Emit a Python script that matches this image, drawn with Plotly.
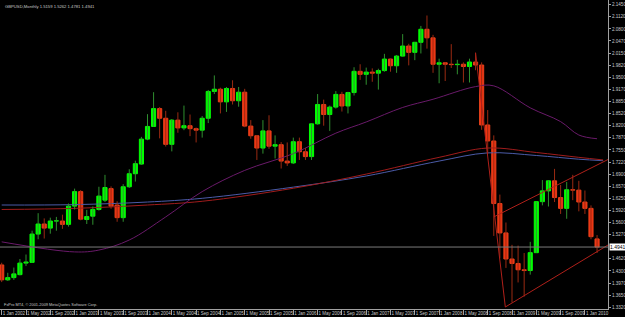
import plotly.graph_objects as go

# ---------------- data ----------------
months = list(range(99))  # 0 = Jan 2002 ... 98 = Mar 2010
opens = [1.4460,1.4060,1.4120,1.4200,1.4510,1.4530,1.5290,1.5560,1.5450,1.5640,1.5640,1.5550,
         1.6040,1.6430,1.5680,1.5770,1.5950,1.6200,1.6510,1.6070,1.5730,1.6560,1.6910,1.7170,
         1.7840,1.8180,1.8660,1.8400,1.7700,1.8350,1.8140,1.8200,1.8120,1.8080,1.8400,1.9120,
         1.9180,1.8840,1.9200,1.8870,1.9100,1.8190,1.7930,1.7600,1.8060,1.7650,1.7690,1.7250,
         1.7200,1.7770,1.7500,1.7370,1.8250,1.8770,1.8500,1.8700,1.9040,1.8730,1.9090,1.9660,
         1.9580,1.9640,1.9610,1.9680,1.9990,1.9810,2.0070,2.0340,2.0170,2.0440,2.0790,2.0560,
         1.9850,1.9890,1.9850,1.9840,1.9850,1.9790,1.9910,1.9830,1.8220,1.7790,1.6110,1.5320,
         1.4620,1.4500,1.4330,1.4310,1.4790,1.6160,1.6450,1.6720,1.6270,1.5980,1.6480,1.6470,
         1.6150,1.5980,1.5159]
highs = [1.4520,1.4250,1.4390,1.4620,1.4740,1.5380,1.5850,1.5710,1.5730,1.5750,1.5810,1.6110,
         1.6510,1.6470,1.5940,1.6030,1.6560,1.6880,1.6570,1.6170,1.6630,1.7030,1.7260,1.7900,
         1.8510,1.9100,1.8700,1.8600,1.8380,1.8560,1.8740,1.8500,1.8150,1.8460,1.9160,1.9550,
         1.9220,1.9240,1.9420,1.9240,1.9190,1.8350,1.7950,1.8350,1.8480,1.7940,1.7760,1.7750,
         1.7880,1.7880,1.7600,1.8260,1.9050,1.8900,1.8740,1.9130,1.9110,1.9110,1.9770,1.9850,
         1.9760,1.9740,1.9730,2.0130,2.0000,2.0100,2.0660,2.0400,2.0450,2.0880,2.1160,2.0640,
         2.0000,1.9900,2.0390,1.9970,1.9900,2.0000,2.0160,1.9900,1.8620,1.7940,1.6350,1.5600,
         1.5000,1.4980,1.4780,1.5080,1.6160,1.6740,1.6740,1.7040,1.6610,1.6690,1.6880,1.6720,
         1.6460,1.6060,1.5262]
lows = [1.4000,1.4030,1.4060,1.4180,1.4430,1.4520,1.5150,1.5170,1.5300,1.5380,1.5430,1.5490,
        1.5950,1.5660,1.5560,1.5540,1.5920,1.6150,1.5970,1.5620,1.5620,1.6530,1.6700,1.7150,
        1.7810,1.8170,1.7860,1.7640,1.7510,1.8010,1.8080,1.7920,1.7750,1.7880,1.8270,1.9050,
        1.8530,1.8570,1.8770,1.8710,1.8160,1.7850,1.7280,1.7450,1.7580,1.7320,1.7050,1.7120,
        1.7170,1.7280,1.7280,1.7280,1.8230,1.8200,1.8060,1.8660,1.8580,1.8530,1.9010,1.9430,
        1.9300,1.9380,1.9170,1.9650,1.9650,1.9620,2.0060,1.9820,1.9960,2.0140,2.0270,1.9620,
        1.9340,1.9400,1.9750,1.9580,1.9360,1.9360,1.9690,1.8090,1.7440,1.5240,1.4640,1.4380,
        1.3450,1.3990,1.3610,1.4200,1.4780,1.6060,1.6030,1.6150,1.5830,1.5700,1.6200,1.5900,
        1.5830,1.5150,1.4781]
closes = [1.4060,1.4120,1.4220,1.4510,1.4540,1.5290,1.5560,1.5450,1.5640,1.5645,1.5550,1.6040,
          1.6430,1.5690,1.5760,1.5950,1.6310,1.6540,1.6040,1.5730,1.6560,1.6910,1.7180,1.7840,
          1.8180,1.8660,1.8400,1.7700,1.8350,1.8140,1.8200,1.8120,1.8080,1.8400,1.9120,1.9180,
          1.8840,1.9200,1.8870,1.9100,1.8190,1.7930,1.7600,1.8060,1.7650,1.7690,1.7250,1.7200,
          1.7770,1.7500,1.7370,1.8250,1.8770,1.8500,1.8700,1.9040,1.8730,1.9090,1.9660,1.9580,
          1.9640,1.9610,1.9680,1.9990,1.9810,2.0070,2.0340,2.0170,2.0440,2.0790,2.0560,1.9850,
          1.9890,1.9850,1.9840,1.9850,1.9790,1.9910,1.9830,1.8220,1.7790,1.6110,1.5320,1.4620,
          1.4500,1.4330,1.4310,1.4790,1.6160,1.6450,1.6720,1.6270,1.5980,1.6480,1.6470,1.6150,
          1.5980,1.5220,1.4941]

# moving averages (sampled months)
ma_months = [0, 12, 16, 21, 27, 33, 40, 48, 55, 60, 66, 71, 78, 81, 87, 92, 95, 98]
ma_purple = [1.508, 1.481, 1.486, 1.513, 1.575, 1.643, 1.700, 1.745, 1.800, 1.830, 1.869, 1.891,
             1.925, 1.927, 1.868, 1.831, 1.795, 1.785]
ma_long_months = [0, 12, 24, 33, 48, 60, 72, 80, 88, 95, 99]
ma_blue = [1.607, 1.608, 1.615, 1.625, 1.655, 1.685, 1.725, 1.747, 1.740, 1.730, 1.726]
ma_red = [1.595, 1.598, 1.607, 1.617, 1.652, 1.690, 1.735, 1.760, 1.748, 1.735, 1.728]

# trend lines (month index, price)
zig_m = [78.0, 82.9]
zig_p = [2.016, 1.333]
low_line_m = [82.9, 99.8]
low_line_p = [1.333, 1.4996]
up_line_m = [81.0, 99.8]
up_line_p = [1.575, 1.7292]

tick_months = list(range(0, 99, 4))
mnames = ["Jan", "May", "Sep"]
tick_text = ["1 %s %d" % (mnames[i % 3], 2002 + i // 3) for i in range(len(tick_months))]

last_price = 1.4941
y_ticks = [2.1450 - 0.0325 * k for k in range(26)]
y_ticks = [v for v in y_ticks if abs(v - last_price) > 0.012]
y_text = ["%.3f0" % (int(v * 1000 + 1e-6) / 1000) for v in y_ticks]

header = "GBPUSD,Monthly 1.5159 1.5262 1.4781 1.4941"
credit = "FxPro MT4, \u00a9 2001-2009 MetaQuotes Software Corp."

FONT = "Liberation Sans"

# ---------------- figure ----------------
fig = go.Figure()

def wick_xy(idx):
    xs, ys = [], []
    for i in idx:
        xs += [months[i], months[i], None]
        ys += [lows[i], highs[i], None]
    return xs, ys

up = [i for i in months if closes[i] >= opens[i]]
dn = [i for i in months if closes[i] < opens[i]]

# MA lines (behind candles)
fig.add_trace(go.Scatter(x=ma_long_months, y=ma_blue, mode="lines",
                         line=dict(color="#4b5ba8", width=1, shape="spline"), hoverinfo="skip"))
fig.add_trace(go.Scatter(x=ma_long_months, y=ma_red, mode="lines",
                         line=dict(color="#a01c1c", width=1, shape="spline"), hoverinfo="skip"))
fig.add_trace(go.Scatter(x=ma_months, y=ma_purple, mode="lines",
                         line=dict(color="#6a1a6a", width=1, shape="spline"), hoverinfo="skip"))

# wicks
xs, ys = wick_xy(up)
fig.add_trace(go.Scatter(x=xs, y=ys, mode="lines", line=dict(color="#2f8f2f", width=1), hoverinfo="skip"))
xs, ys = wick_xy(dn)
fig.add_trace(go.Scatter(x=xs, y=ys, mode="lines", line=dict(color="#9a2a12", width=1), hoverinfo="skip"))

# bodies
fig.add_trace(go.Bar(x=up, base=[opens[i] for i in up], y=[closes[i] - opens[i] for i in up],
                     width=0.68, marker=dict(color="#00ff00", line=dict(color="#00ff00", width=1)),
                     hoverinfo="skip"))
fig.add_trace(go.Bar(x=dn, base=[closes[i] for i in dn], y=[opens[i] - closes[i] for i in dn],
                     width=0.68, marker=dict(color="#f03212", line=dict(color="#e8401a", width=1)),
                     hoverinfo="skip"))

# trend lines
for mx, py in [(zig_m, zig_p), (low_line_m, low_line_p), (up_line_m, up_line_p)]:
    fig.add_trace(go.Scatter(x=mx, y=py, mode="lines", line=dict(color="#b0201a", width=1),
                             hoverinfo="skip"))

# current price line
fig.add_hline(y=last_price, line=dict(color="#7a7a7a", width=1))
fig.add_annotation(x=1, xref="paper", xanchor="left", y=last_price, yref="y", text="%.4f" % last_price,
                   showarrow=False, bgcolor="#ffffff", font=dict(color="#000000", size=5, family=FONT),
                   borderpad=0, xshift=1)
fig.add_annotation(x=0, xref="paper", xanchor="left", y=1, yref="paper", yanchor="top", text=header,
                   showarrow=False, font=dict(color="#c8c8c8", size=4.2, family=FONT), xshift=3, yshift=-2)
fig.add_annotation(x=0, xref="paper", xanchor="left", y=0, yref="paper", yanchor="bottom", text=credit,
                   showarrow=False, font=dict(color="#c8c8c8", size=3.9, family=FONT), xshift=2, yshift=0)

fig.update_layout(
    width=625, height=317, margin=dict(l=0, r=17, t=0, b=8),
    paper_bgcolor="#000000", plot_bgcolor="#000000", showlegend=False, barmode="overlay",
    xaxis=dict(range=[-0.28, 99.8], tickvals=tick_months, ticktext=tick_text, ticks="outside",
               ticklen=5, tickcolor="#a0a0a0", ticklabelposition="outside right", tickangle=0,
               tickfont=dict(color="#c8c8c8", size=4.5, family=FONT), automargin=False,
               showline=True, linecolor="#a0a0a0", mirror=True, showgrid=False, zeroline=False,
               fixedrange=True),
    yaxis=dict(range=[1.3277, 2.1576], side="right", tickvals=y_ticks, ticktext=y_text, ticks="outside",
               ticklen=2, tickcolor="#a0a0a0", tickfont=dict(color="#c8c8c8", size=4.6, family=FONT),
               showline=True, linecolor="#a0a0a0", mirror=True, showgrid=False, zeroline=False,
               automargin=False, fixedrange=True),
)

fig.write_html("out.html")
